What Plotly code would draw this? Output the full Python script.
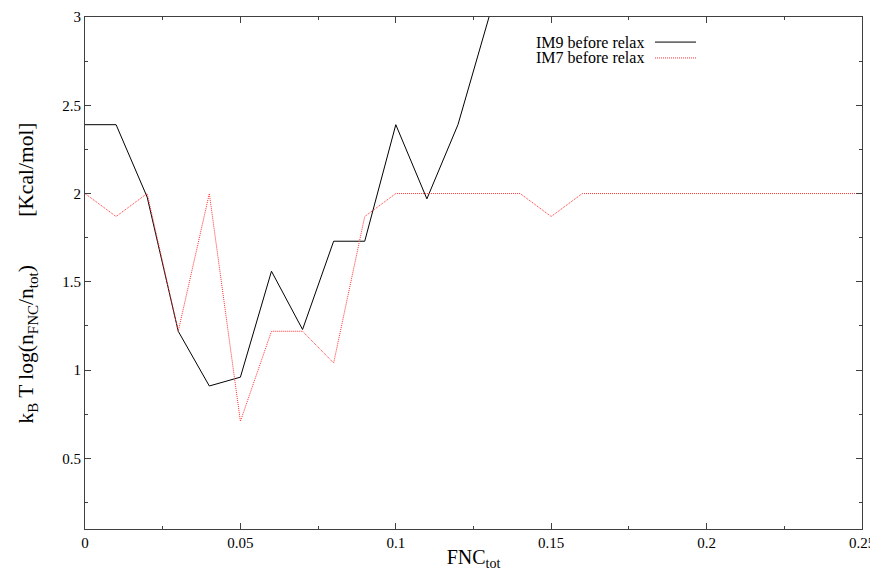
import plotly.graph_objects as go

fnc = [0.00, 0.01, 0.02, 0.03, 0.04, 0.05, 0.06, 0.07, 0.08, 0.09, 0.10, 0.11, 0.12, 0.13,
       0.14, 0.15, 0.16, 0.17, 0.18, 0.19, 0.20, 0.21, 0.22, 0.23, 0.24, 0.25]
im9_x = fnc[:14]
im9_y = [2.39, 2.39, 1.98, 1.22, 0.91, 0.96, 1.56, 1.23, 1.73, 1.73, 2.39, 1.97, 2.39, 3.0]
im7_y = [2.0, 1.87, 2.0, 1.22, 2.0, 0.71, 1.22, 1.22, 1.04, 1.87, 2.0, 2.0, 2.0, 2.0,
         2.0, 1.87, 2.0, 2.0, 2.0, 2.0, 2.0, 2.0, 2.0, 2.0, 2.0, 2.0]
series_names = ["IM9 before relax", "IM7 before relax"]
x_ticks = [0, 0.05, 0.1, 0.15, 0.2, 0.25]
x_tick_labels = ["0", "0.05", "0.1", "0.15", "0.2", "0.25"]
y_ticks = [0.5, 1, 1.5, 2, 2.5, 3]
y_tick_labels = ["0.5", "1", "1.5", "2", "2.5", "3"]

FONT = "Liberation Serif"
RED = "#ff3030"
NB = "\u00a0"

fig = go.Figure()
fig.add_trace(go.Scatter(x=im9_x, y=im9_y, mode="lines", name=series_names[0],
                         line=dict(color="black", width=1), showlegend=False))
fig.add_trace(go.Scatter(x=fnc, y=im7_y, mode="lines", name=series_names[1],
                         line=dict(color=RED, width=1, dash="1px,1px"), showlegend=False))

axis_common = dict(showgrid=False, zeroline=False, showline=True, linecolor="#404040",
                   linewidth=1, mirror="allticks", ticks="inside", ticklen=6, automargin=False,
                   ticklabeloverflow="allow",
                   tickcolor="#404040", tickfont=dict(family=FONT, size=15, color="black"))

fig.update_xaxes(range=[0, 0.25], tickvals=x_ticks, ticktext=x_tick_labels,
                 minor=dict(dtick=0.025, ticks="inside", ticklen=3, tickcolor="#404040", showgrid=False),
                 title=dict(text="FNC<sub>tot</sub>", font=dict(family=FONT, size=20, color="black"), standoff=10),
                 **axis_common)
fig.update_yaxes(range=[0.1, 3], tickvals=y_ticks, ticktext=y_tick_labels,
                 minor=dict(tickvals=[0.25, 0.75, 1.25, 1.75, 2.25, 2.75], ticks="inside", ticklen=3,
                            tickcolor="#404040", showgrid=False),
                 title=dict(text=NB * 4 + "k<sub>B</sub> T log(n<sub>FNC</sub>/n<sub>tot</sub>)" + NB * 9 + "[Kcal/mol]",
                            font=dict(family=FONT, size=21.5, color="black"), standoff=22),
                 **axis_common)

# legend drawn gnuplot-style: text then line sample
legend_styles = [dict(color="black", width=1), dict(color=RED, width=1, dash="1px,1px")]
legend_y = [0.951, 0.920]
for i, name in enumerate(series_names):
    fig.add_annotation(xref="paper", yref="paper", x=0.7215, y=legend_y[i], text=name,
                       showarrow=False, xanchor="right", yanchor="middle",
                       font=dict(family=FONT, size=16, color="black"))
    fig.add_shape(type="line", xref="paper", yref="paper", x0=0.7336, x1=0.7864,
                  y0=legend_y[i], y1=legend_y[i], line=legend_styles[i])

# page body has an 8px margin: size figure to fit the 878x579 window
fig.update_layout(width=862, height=563, margin=dict(l=77, r=8, t=9, b=42),
                  plot_bgcolor="white", paper_bgcolor="white", showlegend=False)

fig.write_html("out.html")
